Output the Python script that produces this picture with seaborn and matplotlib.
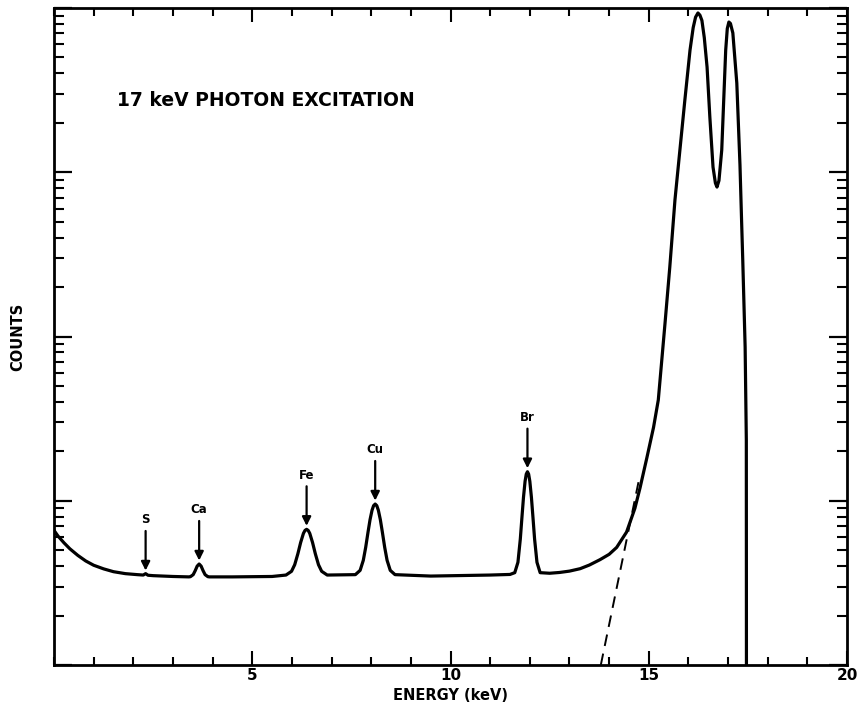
import matplotlib
matplotlib.use("Agg")
import matplotlib.pyplot as plt
import numpy as np
import pandas as pd
import seaborn as sns
from matplotlib.ticker import LogLocator, NullFormatter, MultipleLocator

# ---- data (energy in keV, counts on a log scale) ----
energy = [0.0, 0.1, 0.25, 0.4, 0.6, 0.8, 1.0, 1.25, 1.5, 1.8, 2.1, 2.25, 2.31, 2.37, 2.5, 3.0,
          3.40, 3.44, 3.51, 3.56, 3.61, 3.66, 3.71, 3.76, 3.81, 3.88, 3.92, 4.5, 5.5,
          5.85, 5.99, 6.07, 6.15, 6.22, 6.29, 6.33, 6.37, 6.41, 6.45, 6.52, 6.59, 6.67, 6.75, 6.89,
          7.60, 7.72, 7.80, 7.86, 7.92, 7.97, 8.02, 8.06, 8.10, 8.14, 8.18, 8.23, 8.28, 8.34,
          8.40, 8.48, 8.60,
          9.5, 11.0, 11.5,
          11.62, 11.70, 11.76, 11.80, 11.84, 11.88, 11.91, 11.94, 11.97, 12.00, 12.04, 12.08,
          12.12, 12.18, 12.26,
          12.5, 12.75, 13.0, 13.27, 13.5, 13.77, 14.0, 14.19, 14.44, 14.65, 14.78, 14.95,
          15.12, 15.24,
          15.41, 15.53, 15.66, 15.71, 15.91, 16.04, 16.12, 16.18, 16.24, 16.29, 16.34,
          16.40, 16.47, 16.54, 16.62, 16.68, 16.72, 16.77, 16.84, 16.89, 16.94, 16.98,
          17.02, 17.06, 17.12, 17.22, 17.30, 17.34, 17.37, 17.43, 17.46, 17.465]
counts = [66, 61, 55.5, 51, 46.5, 43, 40.5, 38.5, 37, 36, 35.5, 35.3, 36.0, 35.2, 35.0, 34.6,
          34.4, 34.5, 35.5, 37.5, 40.0, 41.2, 40.0, 37.5, 35.5, 34.5, 34.4, 34.4, 34.6,
          35.3, 37.2, 40.8, 47.6, 55.7, 63.3, 66.0, 67.0, 66.0, 63.3, 55.7, 47.6, 40.8, 37.2, 35.3,
          35.5, 37.7, 43.4, 52.0, 64.6, 76.7, 87.5, 93.4, 95.5, 93.4, 87.5, 76.7, 64.6, 52.0,
          43.4, 37.7, 35.5,
          34.8, 35.3, 35.6,
          36.5, 42.2, 58.5, 78.7, 105.0, 131.4, 145.3, 150.3, 145.3, 131.4, 105.0, 78.7,
          58.5, 42.2, 36.5,
          36.2, 36.6, 37.3, 38.6, 40.6, 43.8, 47.2, 52.0, 64.5, 90, 120, 182,
          280, 411,
          1208, 2649, 6776, 8980, 27540, 55460, 76000, 88000, 93300, 90500, 84000,
          66000, 43700, 21700, 10760, 8600, 8130, 8900, 13650, 27540, 55460, 75000,
          82200, 80500, 70500, 34900, 11070, 5120, 2925, 863, 234, 1]

# extrapolated scatter tail (dashed)
dash_energy = [13.79, 14.76]
dash_counts = [10, 137]

# element markers
elements = ["S", "Ca", "Fe", "Cu", "Br"]
element_energy = [2.31, 3.66, 6.37, 8.10, 11.94]
element_peak = [35.8, 41.2, 67.0, 95.5, 150.3]

x_major = [5, 10, 15, 20]
x_labels = ["5", "10", "15", "20"]

title_text = "17 keV PHOTON EXCITATION"

# ---- figure ----
sns.set_style("ticks")
plt.rcParams["font.family"] = ["DejaVu Sans"]
plt.rcParams.update({"text.color": "black", "axes.labelcolor": "black",
                     "xtick.color": "black", "ytick.color": "black",
                     "axes.edgecolor": "black"})

fig = plt.figure(figsize=(8.63, 7.17), dpi=100)
ax = fig.add_axes([0.0626, 0.0725, 0.9189, 0.9163])

df = pd.DataFrame({"energy": energy, "counts": counts})
sns.lineplot(data=df, x="energy", y="counts", ax=ax, color="black",
             linewidth=2.3, sort=False, estimator=None)
sns.lineplot(x=dash_energy, y=dash_counts, ax=ax, color="black",
             linewidth=1.4, linestyle=(0, (6, 4)), sort=False, estimator=None)

ax.set_yscale("log")
ax.set_xlim(0, 20)
ax.set_ylim(10, 1e5)

ax.set_xticks(x_major, labels=x_labels, fontweight="bold", fontsize=11)
ax.xaxis.set_minor_locator(MultipleLocator(1))
ax.yaxis.set_major_locator(LogLocator(base=10, numticks=10))
ax.yaxis.set_minor_locator(LogLocator(base=10, subs=np.arange(2, 10), numticks=30))
ax.yaxis.set_major_formatter(NullFormatter())
ax.yaxis.set_minor_formatter(NullFormatter())

ax.tick_params(axis="x", which="major", direction="in", length=10, width=1.5,
               top=True, bottom=True, pad=2)
ax.tick_params(axis="x", which="minor", direction="in", length=6, width=1.5,
               top=True, bottom=True)
ax.tick_params(axis="y", which="major", direction="in", length=13, width=1.6,
               left=True, right=True)
ax.tick_params(axis="y", which="minor", direction="in", length=7, width=1.5,
               left=True, right=True)

for s in ax.spines.values():
    s.set_linewidth(2)
    s.set_color("black")

ax.set_xlabel("ENERGY (keV)", fontweight="bold", fontsize=10.5, labelpad=4)
ax.set_ylabel("COUNTS", fontweight="bold", fontsize=10.5, labelpad=17)

ax.text(0.079, 0.86, title_text, transform=ax.transAxes, fontsize=13.5,
        fontweight="bold", va="center", ha="left")

for name, e, p in zip(elements, element_energy, element_peak):
    ax.annotate("", xy=(e, p), xytext=(0, 31), textcoords="offset points",
                arrowprops=dict(arrowstyle="-|>", color="black", lw=1.6,
                                mutation_scale=13, shrinkA=0, shrinkB=2.5))
    ax.annotate(name, xy=(e, p), xytext=(0, 39), textcoords="offset points",
                ha="center", va="center", fontsize=8.5, fontweight="bold")

fig.savefig("out.png", dpi=100)
